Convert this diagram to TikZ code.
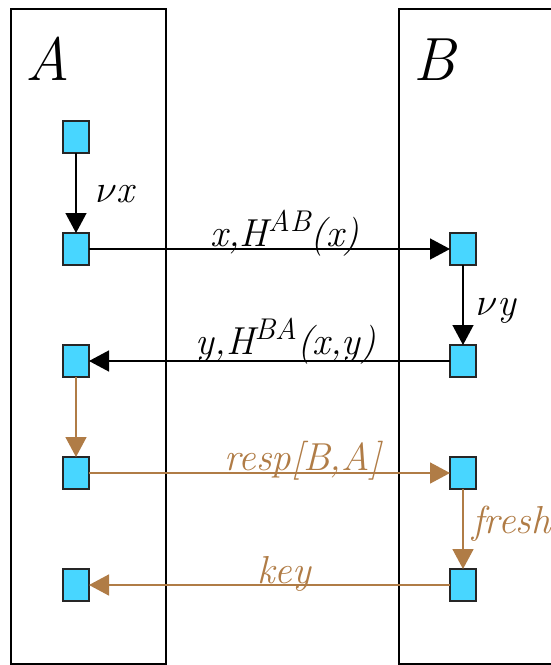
\RequirePackage{fix-cm}
\documentclass[tikz,border=0pt]{standalone}
\usetikzlibrary{arrows.meta}
\definecolor{sqfill}{RGB}{72,214,255}
\definecolor{brn}{RGB}{176,124,70}
\newcommand\mysup[1]{\raisebox{0.36em}{\fontsize{30}{30}\selectfont #1}}
\begin{document}
\begin{tikzpicture}[x=1pt,y=-1pt,
  lane/.style={draw=black,line width=1.4pt},
  sqbox/.style={draw=black!85,fill=sqfill,line width=1.4pt,minimum width=26pt,minimum height=32pt,inner sep=0pt,outer sep=0pt},
  blk/.style={draw=black,line width=1.4pt,-{Triangle[width=21pt,length=20pt]}},
  brw/.style={draw=brn,line width=1.6pt,-{Triangle[width=21pt,length=20pt]}},
  lbl/.style={font=\itshape\fontsize{39}{39}\selectfont,anchor=base,inner sep=0pt},
  big/.style={font=\itshape\fontsize{61}{61}\selectfont,anchor=base west,inner sep=0pt}]
\useasboundingbox (0,0) rectangle (551,665);
\clip (0,0) rectangle (551,665);
% lanes
\draw[lane] (11,9) rectangle (166,664);
\draw[lane] (399,9) rectangle (600,664);
\node[big] (la) at (25,80) {A};
\node[big] (lb) at (413,80) {B};
% squares
\node[sqbox] (a1) at (76,137) {};
\node[sqbox] (a2) at (76,249) {};
\node[sqbox] (a3) at (76,361) {};
\node[sqbox] (a4) at (76,473) {};
\node[sqbox] (a5) at (76,585) {};
\node[sqbox] (b2) at (463,249) {};
\node[sqbox] (b3) at (463,361) {};
\node[sqbox] (b4) at (463,473) {};
\node[sqbox] (b5) at (463,585) {};
% connectors
\draw[blk] (a1) -- (a2);
\draw[blk] (a2) -- (b2);
\draw[blk] (b2) -- (b3);
\draw[blk] (b3) -- (a3);
\draw[brw] (a3) -- (a4);
\draw[brw] (a4) -- (b4);
\draw[brw] (b4) -- (b5);
\draw[brw] (b5) -- (a5);
% labels
\node[lbl] (t1) at (115,202) {$\nu$x};
\node[lbl] (t2) at (285,246) {x,H\mysup{AB}(x)};
\node[lbl] (t3) at (496,315) {$\nu$y};
\node[lbl] (t4) at (286,354) {y,H\mysup{BA}(x,y)};
\node[lbl,text=brn] (t5) at (303,470) {resp[B,A]};
\node[lbl,text=brn,anchor=base west] (t6) at (472,533) {fresh};
\node[lbl,text=brn] (t7) at (284,583) {key};
\end{tikzpicture}
\end{document}
